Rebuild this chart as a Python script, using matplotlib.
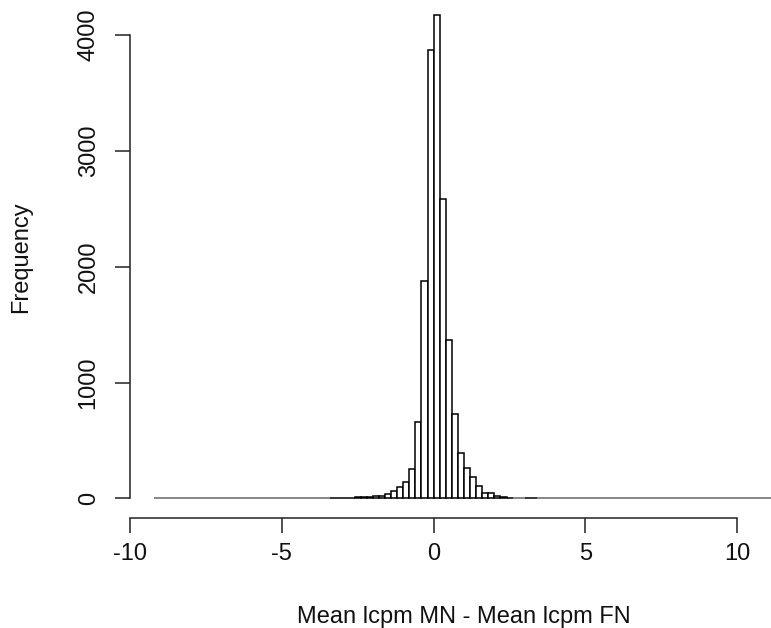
import numpy as np
import matplotlib
matplotlib.use('Agg')
import matplotlib.pyplot as plt

# bin layout of the histogram (width 0.2, first break at -9.2)
bin_start = -9.2
bin_width = 0.2
n_zero_left = 29    # empty bins from -9.2 up to -3.4
n_zero_right = 39   # empty bins from 3.4 up to 11.2

# counts for the bins from -3.4 to 3.4
core_counts = [6, 7, 8, 7, 9, 10, 12, 25, 22, 36, 62, 97, 143, 252, 664, 1873, 3870,
               4173, 2585, 1367, 733, 393, 266, 183, 108, 45, 45, 20, 10, 8, 0, 0, 8, 7]

x_ticks = [-10, -5, 0, 5, 10]
y_ticks = [0, 1000, 2000, 3000, 4000]
x_label = 'Mean lcpm MN - Mean lcpm FN'
y_label = 'Frequency'


def main():
    counts = [0] * n_zero_left + core_counts + [0] * n_zero_right
    lefts = bin_start + bin_width * np.arange(len(counts))
    # empty bins collapse to a thin line that R draws looking grey
    edges = ['#666666' if c == 0 else 'black' for c in counts]

    plt.rcParams['font.family'] = ['Liberation Sans', 'DejaVu Sans']
    W, H = 771, 628
    fig = plt.figure(figsize=(W / 100, H / 100), dpi=100)

    # R-like plot region, partly cut off at the top and right of the picture
    ax = fig.add_axes([129.5 / W, 110.2 / H, 669.0 / W, 522.2 / H])

    ax.bar(lefts, counts, width=bin_width, align='edge', facecolor='white',
           edgecolor=edges, linewidth=1.1, clip_on=False)

    lo, hi = lefts[0], lefts[-1] + bin_width
    ext = 0.04 * (hi - lo)
    ax.set_xlim(lo - ext, hi + ext)
    ymax = max(counts)
    ax.set_ylim(-0.04 * ymax, 1.04 * ymax)

    for s in ['top', 'right']:
        ax.spines[s].set_visible(False)
    for s in ['left', 'bottom']:
        ax.spines[s].set_linewidth(1.1)
        ax.spines[s].set_color('#222222')
    ax.spines['left'].set_bounds(y_ticks[0], y_ticks[-1])
    ax.spines['bottom'].set_bounds(x_ticks[0], x_ticks[-1])

    ax.set_xticks(x_ticks)
    ax.set_xticklabels([str(t) for t in x_ticks])
    ax.set_yticks(y_ticks)
    ax.set_yticklabels([str(t) for t in y_ticks], rotation=90, va='center')
    ax.tick_params(axis='both', direction='out', length=10.5, width=1.1,
                   color='#222222', labelsize=17, labelcolor='#111111')
    ax.tick_params(axis='x', pad=8)
    ax.tick_params(axis='y', pad=11)

    ax.set_xlabel(x_label, fontsize=17, labelpad=29, color='#111111')
    ax.set_ylabel(y_label, fontsize=17, labelpad=33, color='#111111')

    fig.savefig('out.png', dpi=100)


if __name__ == '__main__':
    main()
